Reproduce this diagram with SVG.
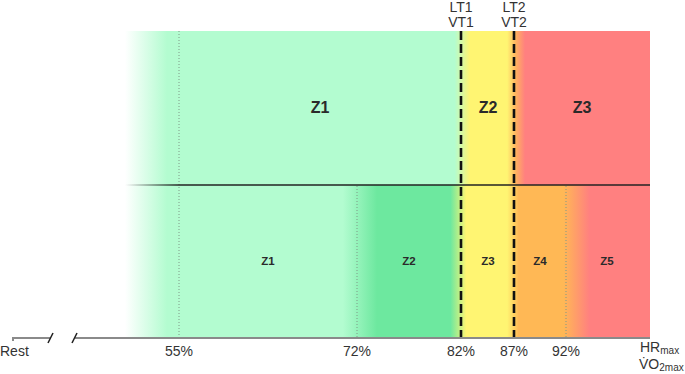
<svg xmlns="http://www.w3.org/2000/svg" width="685" height="374" viewBox="0 0 685 374">
<style>
text{font-family:"Liberation Sans",Arial,sans-serif;fill:#2a2a2a}
.zt{font-size:16px;font-weight:bold;text-anchor:middle}
.zb{font-size:11.5px;font-weight:bold;text-anchor:middle}
.ax{font-size:14px;text-anchor:middle;fill:#333}
.th{font-size:14px;text-anchor:middle;fill:#333}
.dash{stroke:#111;stroke-width:2.6;stroke-dasharray:9 4;fill:none}
.dot{stroke:#7f9a88;stroke-width:1;stroke-dasharray:1 2;fill:none}
.axis{stroke:#8a8a8a;stroke-width:2;fill:none}
</style>
<defs>
<linearGradient id="gTop" gradientUnits="userSpaceOnUse" x1="125" y1="0" x2="650" y2="0">
<stop offset="0" stop-color="#ffffff"/>
<stop offset="0.08" stop-color="#b3fcd0"/>
<stop offset="0.628" stop-color="#b3fcd0"/>
<stop offset="0.657" stop-color="#fff572"/>
<stop offset="0.728" stop-color="#fff572"/>
<stop offset="0.745" stop-color="#ffb060"/>
<stop offset="0.762" stop-color="#ff8080"/>
<stop offset="1" stop-color="#ff8080"/>
</linearGradient>
<linearGradient id="gBot" gradientUnits="userSpaceOnUse" x1="125" y1="0" x2="650" y2="0">
<stop offset="0" stop-color="#ffffff"/>
<stop offset="0.08" stop-color="#b3fcd0"/>
<stop offset="0.415" stop-color="#b3fcd0"/>
<stop offset="0.48" stop-color="#6de89f"/>
<stop offset="0.62" stop-color="#6de89f"/>
<stop offset="0.65" stop-color="#fff572"/>
<stop offset="0.728" stop-color="#fff572"/>
<stop offset="0.75" stop-color="#ffb855"/>
<stop offset="0.835" stop-color="#ffb855"/>
<stop offset="0.885" stop-color="#ff8080"/>
<stop offset="1" stop-color="#ff8080"/>
</linearGradient>
<linearGradient id="gLine" gradientUnits="userSpaceOnUse" x1="125" y1="0" x2="180" y2="0">
<stop offset="0" stop-color="#222" stop-opacity="0"/>
<stop offset="1" stop-color="#222" stop-opacity="1"/>
</linearGradient>
</defs>

<g id="band-top">
<rect x="125" y="31" width="525" height="154" fill="url(#gTop)"/>
</g>
<g id="band-bottom">
<rect x="125" y="185" width="525" height="153" fill="url(#gBot)"/>
</g>

<g id="guides">
<line class="dot" x1="179" y1="31" x2="179" y2="338"/>
<line class="dot" x1="357" y1="186" x2="357" y2="338"/>
<line class="dot" x1="566" y1="186" x2="566" y2="338"/>
</g>

<g id="connectors">
<line x1="125" y1="185" x2="650" y2="185" stroke="url(#gLine)" stroke-width="1.5"/>
<line class="dash" x1="461" y1="31" x2="461" y2="338"/>
<line class="dash" x1="514" y1="31" x2="514" y2="338"/>
</g>

<g id="axis">
<polyline class="axis" points="13,341 13,338 51,338"/>
<line class="axis" x1="75" y1="338" x2="650" y2="338"/>
<line x1="48" y1="343" x2="53" y2="333" stroke="#222" stroke-width="1.5"/>
<line x1="72" y1="343" x2="77" y2="333" stroke="#222" stroke-width="1.5"/>
</g>

<g id="zones-top">
<text class="zt" x="320" y="113">Z1</text>
<text class="zt" x="488" y="113">Z2</text>
<text class="zt" x="582" y="113">Z3</text>
</g>
<g id="zones-bottom">
<text class="zb" x="268" y="265">Z1</text>
<text class="zb" x="409" y="265">Z2</text>
<text class="zb" x="488" y="265">Z3</text>
<text class="zb" x="540" y="265">Z4</text>
<text class="zb" x="607" y="265">Z5</text>
</g>

<g id="thresholds">
<text class="th" x="461" y="12">LT1</text>
<text class="th" x="461" y="27">VT1</text>
<text class="th" x="514" y="12">LT2</text>
<text class="th" x="514" y="27">VT2</text>
</g>

<g id="axis-labels">
<text x="0" y="356" style="font-size:14px;fill:#333">Rest</text>
<text class="ax" x="179" y="356">55%</text>
<text class="ax" x="357" y="356">72%</text>
<text class="ax" x="461" y="356">82%</text>
<text class="ax" x="514" y="356">87%</text>
<text class="ax" x="566" y="356">92%</text>
<text x="640" y="352" style="font-size:14px;fill:#333">HR<tspan font-size="10" dy="2">max</tspan></text>
<text x="639" y="369" style="font-size:14px;fill:#333">V̇O<tspan font-size="10" dy="2">2max</tspan></text>
</g>
</svg>
